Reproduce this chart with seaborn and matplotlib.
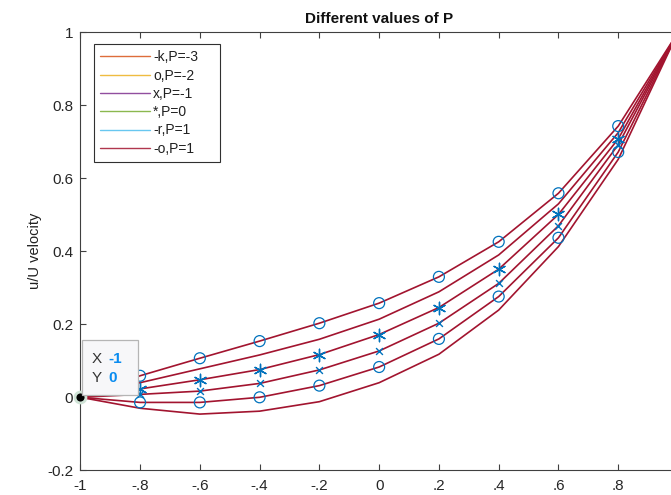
import numpy as np
import pandas as pd
import matplotlib
matplotlib.use("Agg")
import matplotlib.pyplot as plt
from matplotlib.lines import Line2D
from matplotlib.patches import Rectangle
import seaborn as sns

# Channel coordinate and velocity profiles u/U for each pressure parameter
x_nodes = [-1.0, -0.8, -0.6, -0.4, -0.2, 0.0, 0.2, 0.4, 0.6, 0.8, 1.0]
u_p_m3 = [0, 0.059, 0.107, 0.154, 0.203, 0.258, 0.330, 0.426, 0.559, 0.743, 1]
u_p_m2 = [0, 0.040, 0.078, 0.116, 0.159, 0.214, 0.289, 0.390, 0.530, 0.725, 1]
u_p_m1 = [0, 0.023, 0.048, 0.076, 0.117, 0.172, 0.246, 0.351, 0.501, 0.708, 1]
u_p_0 = [0, 0.008, 0.017, 0.038, 0.075, 0.127, 0.203, 0.312, 0.470, 0.692, 1]
u_p_1a = [0, -0.014, -0.014, 0.000, 0.032, 0.083, 0.160, 0.276, 0.437, 0.672, 1]
u_p_1b = [0, -0.030, -0.046, -0.038, -0.012, 0.040, 0.118, 0.239, 0.413, 0.652, 1]

curves = [u_p_m3, u_p_m2, u_p_m1, u_p_0, u_p_1a, u_p_1b]
curve_markers = ["o", None, "*", "x", "o", None]
legend_labels = ["-k,P=-3", "o,P=-2", "x,P=-1", "*,P=0", "-r,P=1", "-o,P=1"]
legend_colors = ["#D95319", "#EDB120", "#7E2F8E", "#77AC30", "#4DBEEE", "#A2142F"]

x_ticks = [-1, -0.8, -0.6, -0.4, -0.2, 0, 0.2, 0.4, 0.6, 0.8]
x_ticklabels = ["-1", "-.8", "-.6", "-.4", "-.2", "0", ".2", ".4", ".6", ".8"]
y_ticks = [-0.2, 0, 0.2, 0.4, 0.6, 0.8, 1]
y_ticklabels = ["-0.2", "0", "0.2", "0.4", "0.6", "0.8", "1"]

line_color = "#A2142F"
marker_color = "#0072BD"
axis_gray = "#404040"

sns.set_theme(style="white")
plt.rcParams["font.family"] = ["Liberation Sans", "DejaVu Sans"]

W, H = 671, 495
fig = plt.figure(figsize=(W / 100, H / 100), dpi=100)
ax_l, ax_r, ax_t, ax_b = 80.3, 678.0, 32.3, 470.3
ax = fig.add_axes([ax_l / W, 1 - ax_b / H, (ax_r - ax_l) / W, (ax_b - ax_t) / H])

rows = []
for i, u in enumerate(curves):
    for xv, uv in zip(x_nodes, u):
        rows.append({"x": xv, "u": uv, "curve": i})
df = pd.DataFrame(rows)

sns.lineplot(data=df, x="x", y="u", hue="curve", palette=[line_color] * len(curves),
             legend=False, linewidth=1.2, sort=False, ax=ax, zorder=2)

# symbols at the interior nodes
inner = df[(df["x"] > -0.95) & (df["x"] < 0.95)]
for i, m in enumerate(curve_markers):
    if m is None:
        continue
    sub = inner[inner["curve"] == i]
    if m == "o":
        sns.scatterplot(data=sub, x="x", y="u", marker="o", s=62, facecolors="none",
                        edgecolor=marker_color, linewidth=0.9, ax=ax, legend=False, zorder=3)
    elif m == "*":
        sns.scatterplot(data=sub, x="x", y="u", marker=(6, 2, 0), s=80, color=marker_color,
                        linewidth=1.0, ax=ax, legend=False, zorder=3)
    else:
        sns.scatterplot(data=sub, x="x", y="u", marker="x", s=24, color=marker_color,
                        linewidth=1.0, ax=ax, legend=False, zorder=3)

ax.set_xlim(-1, 1)
ax.set_ylim(-0.2, 1)
ax.set_xticks(x_ticks)
ax.set_xticklabels(x_ticklabels)
ax.set_yticks(y_ticks)
ax.set_yticklabels(y_ticklabels)
ax.set_xlabel("")
ax.set_ylabel("u/U velocity", fontsize=10.5, color="#202020", labelpad=4)
ax.set_title("Different values of P", fontsize=11, fontweight="bold", color="#111111", pad=7)

for s in ax.spines.values():
    s.set_color(axis_gray)
    s.set_linewidth(0.8)
ax.tick_params(direction="in", length=4.5, width=0.8, color=axis_gray,
               labelsize=11, labelcolor="#262626", top=True, right=True,
               bottom=True, left=True, pad=5)
ax.tick_params(axis="x", pad=6)

# legend box spanning a fixed width, entries left-aligned
aw, ah = ax_r - ax_l, ax_b - ax_t
lx0, lx1, ly0 = 94, 220, 44
handles = [Line2D([0], [0], color=c, lw=1.0, alpha=0.85) for c in legend_colors]
leg = ax.legend(handles, legend_labels, loc="upper left", mode="expand",
                bbox_to_anchor=((lx0 - ax_l) / aw, (ax_b - ly0) / ah - 0.5,
                                (lx1 - lx0) / aw, 0.5),
                borderaxespad=0, fontsize=10, handlelength=3.6, handletextpad=0.2,
                labelspacing=0.31, borderpad=0.45, frameon=True, fancybox=False,
                framealpha=1, edgecolor="#303030")
leg.get_frame().set_linewidth(0.8)
for t in leg.get_texts():
    t.set_color("#202020")

# data tip at the first node
sns.scatterplot(x=[x_nodes[0]], y=[u_p_m3[0]], marker="o", s=62, color="black",
                edgecolor="#CFE3D6", linewidth=2.0, ax=ax, legend=False, zorder=6, clip_on=False)

def px(xp, yp):
    return xp / W, 1 - yp / H

bx0, by0, bx1, by1 = 82, 340, 138, 395
fig.patches.append(Rectangle(px(bx0, by1), (bx1 - bx0) / W, (by1 - by0) / H,
                             transform=fig.transFigure, facecolor="#F7F7F9",
                             edgecolor="#B5B5B5", linewidth=0.9, zorder=5))
tip_blue = "#0A8CF0"
fig.text(*px(92, 359), "X", fontsize=11, color="#333333", va="center", ha="left", zorder=6)
fig.text(*px(108, 359), "-1", fontsize=11, color=tip_blue, fontweight="bold",
         va="center", ha="left", zorder=6)
fig.text(*px(92, 378), "Y", fontsize=11, color="#333333", va="center", ha="left", zorder=6)
fig.text(*px(108, 378), "0", fontsize=11, color=tip_blue, fontweight="bold",
         va="center", ha="left", zorder=6)

fig.savefig("out.png", dpi=100)
